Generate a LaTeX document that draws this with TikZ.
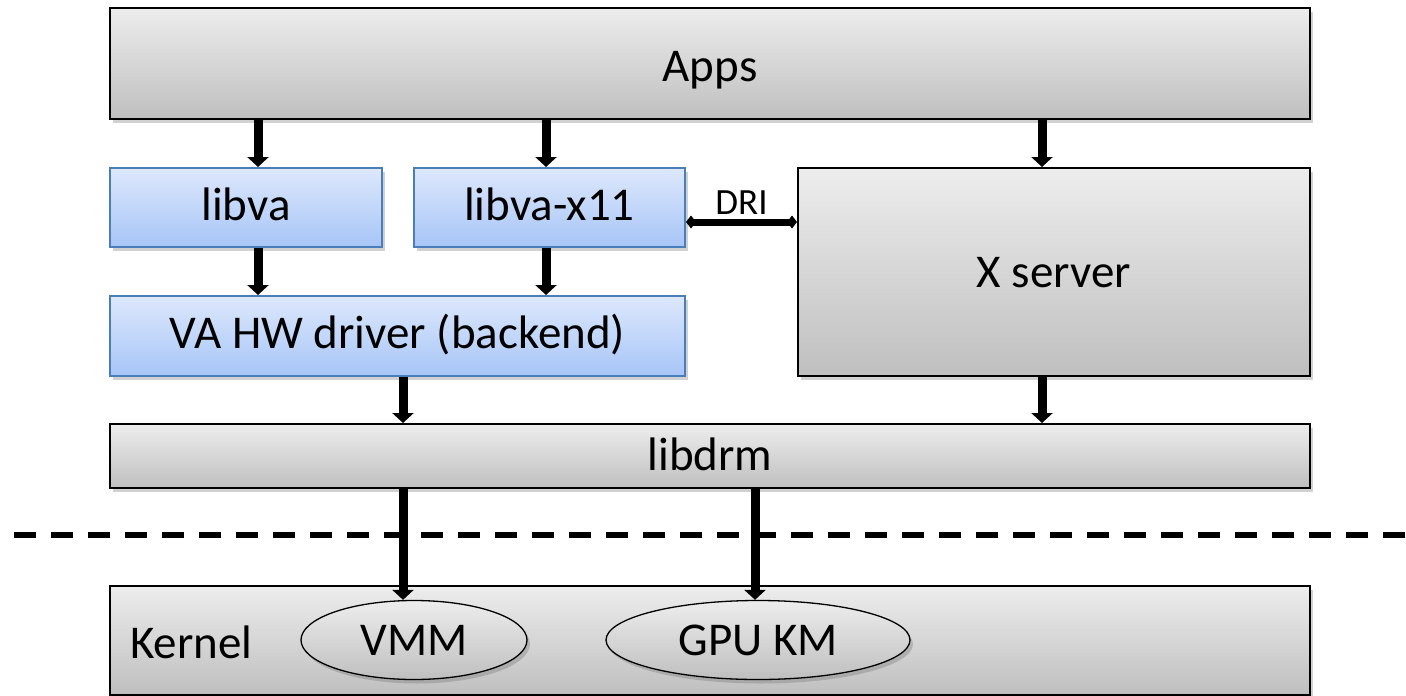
\documentclass[tikz,border=0pt]{standalone}
\usepackage{fontspec}
\setmainfont{Carlito}
\usetikzlibrary{shadows,arrows.meta,shapes.geometric}
\definecolor{gtop}{HTML}{EDEDED}
\definecolor{gbot}{HTML}{BFBFBF}
\definecolor{btop}{HTML}{DDE8FC}
\definecolor{bbot}{HTML}{A7C5F7}
\definecolor{bborder}{HTML}{4A7EBB}
\begin{document}
\begin{tikzpicture}[x=1pt,y=-1pt,
  shad/.style={drop shadow={shadow xshift=3pt,shadow yshift=-4pt,opacity=0.3,fill=black!60}},
  big/.style={font=\fontsize{47}{56}\selectfont},
  graybox/.style={draw=black,line width=2pt,top color=gtop,bottom color=gbot,shad,inner sep=0pt,big,text depth=10pt},
  bluebox/.style={draw=bborder,line width=2pt,top color=btop,bottom color=bbot,shad,inner sep=0pt,big,text depth=10pt,text height=35pt},
  oval/.style={ellipse,draw=black,line width=1.3pt,top color=gtop,bottom color=gbot,shad,inner sep=0pt,big},
  arr/.style={line width=9pt,-{Triangle[width=21pt,length=10pt]}},
  darr/.style={line width=7pt,{Diamond[width=13pt,length=10pt]}-{Diamond[width=13pt,length=10pt]}},
  sep/.style={line width=6pt,dash pattern=on 22pt off 15pt}
]
\useasboundingbox (0,0) rectangle (1406,696);
\node[graybox,text height=45pt,minimum width=1200pt,minimum height=111pt] (apps) at (710,63.5) {Apps};
\node[bluebox,minimum width=272pt,minimum height=79pt] (libva) at (246,207.5) {libva};
\node[bluebox,minimum width=271pt,minimum height=79pt] (libvax) at (549.5,207.5) {libva-x11};
\node[graybox,text height=40pt,minimum width=512pt,minimum height=208pt] (xs) at (1054,272) {X server};
\node[bluebox,minimum width=575pt,minimum height=80pt] (vahw) at (397.5,336) {VA HW driver (backend)};
\node[graybox,text height=38pt,minimum width=1200pt,minimum height=64pt] (drm) at (710,456) {libdrm};
\node[graybox,minimum width=1200pt,minimum height=109pt] (kern) at (710,640) {};
\node[anchor=west,big,inner sep=0pt] (ktext) at (130,642) {Kernel};
\node[oval,minimum width=226pt,minimum height=79pt] (vmm) at (414,640) {VMM};
\node[oval,minimum width=304pt,minimum height=79pt] (gpu) at (758,640) {GPU KM};
\coordinate (d1) at (14,535);
\coordinate (d2) at (1406,535);
\draw[sep] (d1) -- (d2);
\coordinate (c1) at (258,0);
\coordinate (c2) at (546,0);
\coordinate (c3) at (1042,0);
\coordinate (c4) at (403,0);
\coordinate (c5) at (755,0);
\coordinate (c6) at (0,222);
\draw[arr] (c1 |- apps.south) -- (c1 |- libva.north);
\draw[arr] (c2 |- apps.south) -- (c2 |- libvax.north);
\draw[arr] (c3 |- apps.south) -- (c3 |- xs.north);
\draw[arr] (c1 |- libva.south) -- (c1 |- vahw.north);
\draw[arr] (c2 |- libvax.south) -- (c2 |- vahw.north);
\draw[arr] (c4 |- vahw.south) -- (c4 |- drm.north);
\draw[arr] (c3 |- xs.south) -- (c3 |- drm.north);
\draw[arr] (c4 |- drm.south) -- (c4 |- vmm.north);
\draw[arr] (c5 |- drm.south) -- (c5 |- gpu.north);
\draw[darr] (libvax.east |- c6) -- node[above=1pt,font=\fontsize{37}{44}\selectfont] (dri) {DRI} (xs.west |- c6);
\end{tikzpicture}
\end{document}
